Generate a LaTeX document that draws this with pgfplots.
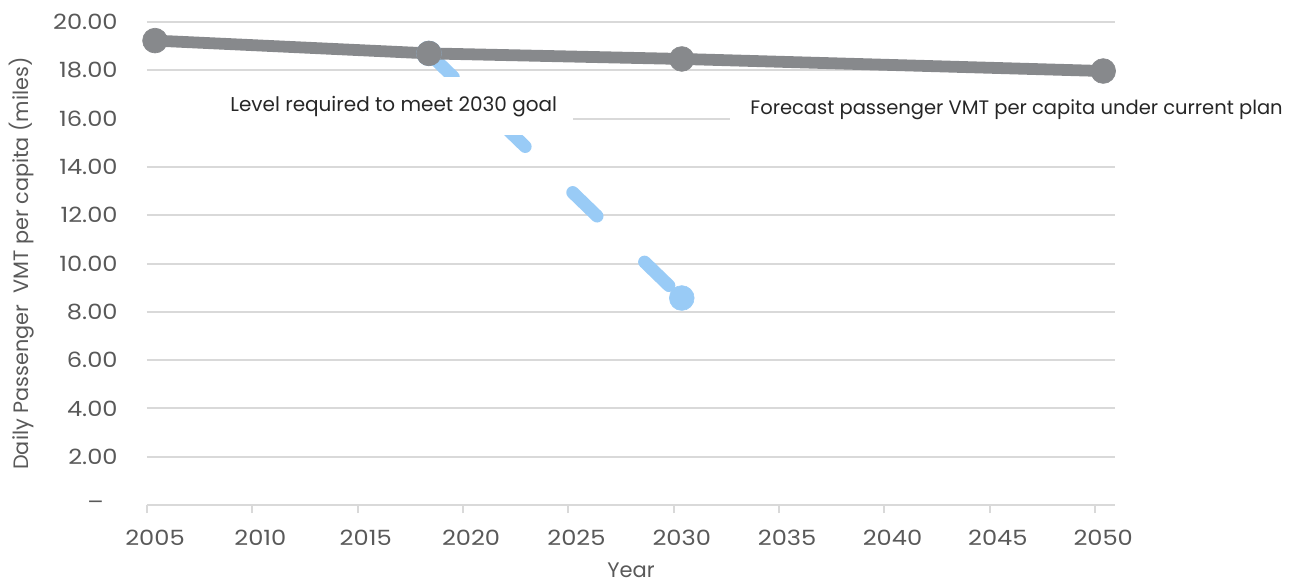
\documentclass[border=0pt]{standalone}
\usepackage{fontspec}
\setmainfont{Poppins}
\usepackage{pgfplots}
\pgfplotsset{compat=1.18}
\definecolor{seriesgray}{RGB}{135,137,140}
\definecolor{seriesblue}{RGB}{153,203,246}
\definecolor{gridgray}{RGB}{217,217,217}
\definecolor{ticktext}{RGB}{89,89,89}
\definecolor{labeltext}{RGB}{38,38,38}
\newcommand{\tl}[1]{\scalebox{1.15}[1]{#1}}
\begin{document}
\begin{tikzpicture}
\path[use as bounding box] (-73.5pt,-40pt) rectangle (574pt,252.5pt);
\begin{axis}[
  at={(0,0)}, anchor=south west,
  scale only axis, width=484pt, height=241.5pt,
  xmin=2004.62, xmax=2050.56, ymin=0, ymax=20,
  clip=false,
  axis line style={draw=none},
  tick pos=left,
  xtick={2005,2010,2015,2020,2025,2030,2035,2040,2045,2050},
  xticklabels={\tl{2005},\tl{2010},\tl{2015},\tl{2020},\tl{2025},\tl{2030},\tl{2035},\tl{2040},\tl{2045},\tl{2050}},
  xtick style={draw=none},
  extra x ticks={2004.62,2009.62,2014.62,2019.62,2024.62,2029.62,2034.62,2039.62,2044.62,2049.62},
  extra x tick labels={},
  extra x tick style={tick align=outside, major tick length=4pt, xtick style={draw=gridgray, line width=1pt}},
  ytick={0,2,4,6,8,10,12,14,16,18,20},
  yticklabels={\tl{–}\kern7pt,\tl{2.00},\tl{4.00},\tl{6.00},\tl{8.00},\tl{10.00},\tl{12.00},\tl{14.00},\tl{16.00},\tl{18.00},\tl{20.00}},
  ytick style={draw=none},
  ymajorgrids, grid style={draw=gridgray, line width=1pt},
  yticklabel style={anchor=east, inner sep=0pt, xshift=-14.5pt, font=\fontsize{10.5}{12}\selectfont, text=ticktext},
  xticklabel style={anchor=north, inner sep=0pt, yshift=-12.5pt, font=\fontsize{10.5}{12}\selectfont, text=ticktext},
  xlabel={Year},
  ylabel={Daily Passenger~ VMT per capita (miles)},
  every axis x label/.style={at={([yshift=-32.5pt]axis description cs:0.5,0)}, anchor=center, font=\fontsize{10.5}{12}\selectfont, text=ticktext},
  every axis y label/.style={at={([xshift=-62.5pt]axis description cs:0,0.5)}, anchor=center, rotate=90, font=\fontsize{10.4}{12}\selectfont, text=ticktext},
]
\addplot[seriesblue, line width=6.4pt, line cap=round, dash pattern=on 17pt off 33pt,
  mark=*, mark size=6.2pt, mark options={solid, draw=seriesblue, fill=seriesblue, line width=0.3pt}]
  coordinates {(2018,18.70) (2030,8.57)};
\node[fill=white, inner sep=0pt, anchor=north east, minimum width=216.5pt, minimum height=29pt] at (axis cs:2024.84,17.72) {};
\node[anchor=base west, inner sep=0pt, font=\fontsize{10}{12}\selectfont, text=labeltext] at (axis cs:2008.56,16.31) {Level required to meet 2030 goal};
\node[fill=white, inner sep=0pt, anchor=north west, minimum width=285pt, minimum height=29pt] at (axis cs:2032.29,17.72) {};
\node[anchor=base west, inner sep=0pt, font=\fontsize{9.75}{12}\selectfont, text=labeltext] at (axis cs:2033.24,16.15) {Forecast passenger VMT per capita under current plan};
\addplot[seriesgray, line width=5.9pt, line cap=round, line join=round,
  mark=*, mark size=6.2pt, mark options={draw=seriesgray, fill=seriesgray, line width=0.3pt}]
  coordinates {(2005,19.23) (2018,18.70) (2030,18.47) (2050,17.97)};
\end{axis}
\end{tikzpicture}
\end{document}
